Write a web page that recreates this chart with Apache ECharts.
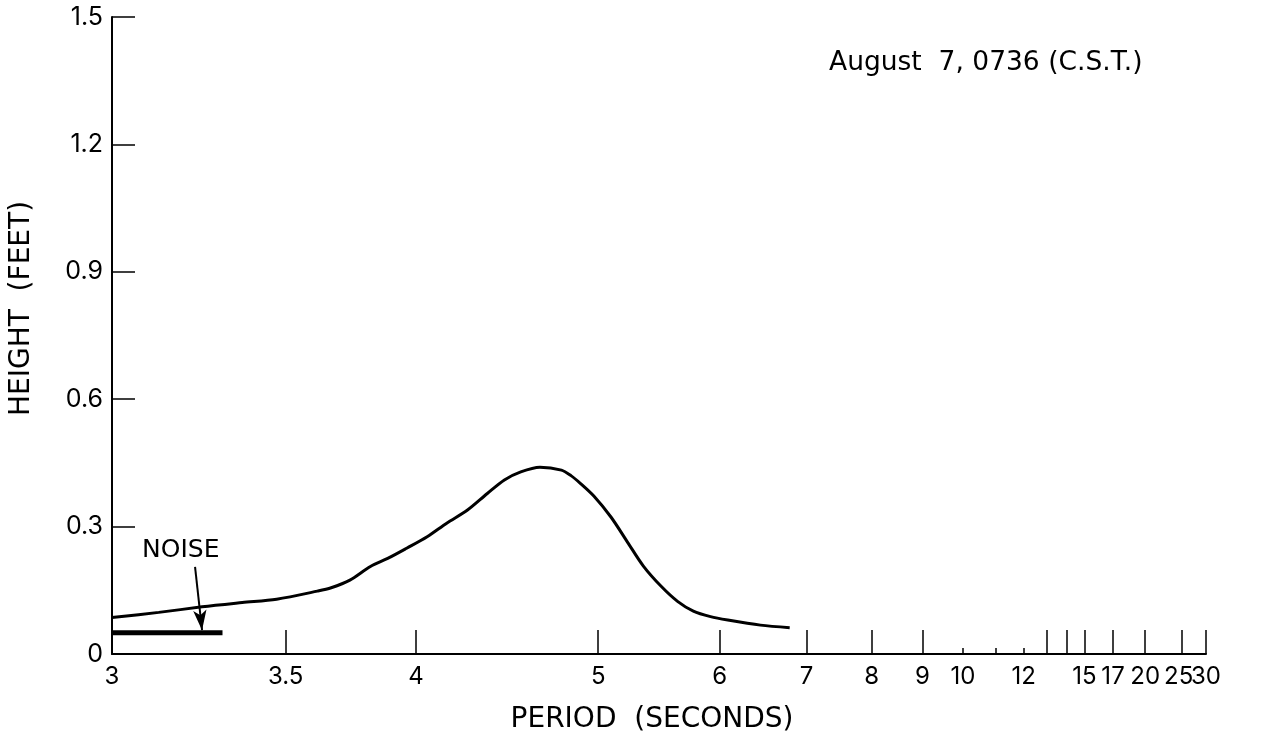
<!DOCTYPE html>
<html>
<head>
<meta charset="utf-8">
<script src="https://cdn.jsdelivr.net/npm/echarts@6/dist/echarts.min.js"></script>
<style>
  html, body { margin: 0; padding: 0; background: #fff; }
  #container { width: 1261px; height: 742px; }
</style>
</head>
<body>
<div id="container"></div>
<script>
// wave height spectrum, period in seconds vs height in feet
const periods = [3.0, 3.12, 3.24, 3.36, 3.47, 3.61, 3.66, 3.73, 3.81, 3.88, 3.96,
    4.05, 4.14, 4.24, 4.34, 4.43, 4.52, 4.63, 4.76, 4.82, 4.88, 4.97, 5.09, 5.21,
    5.33, 5.47, 5.61, 5.75, 5.91, 6.08, 6.43, 6.78];
const heights = [0.086, 0.098, 0.111, 0.121, 0.129, 0.148, 0.156, 0.174, 0.206, 0.225, 0.249,
    0.276, 0.308, 0.339, 0.378, 0.410, 0.429, 0.440, 0.433, 0.420, 0.402, 0.372, 0.322, 0.263,
    0.207, 0.160, 0.124, 0.101, 0.088, 0.080, 0.068, 0.062];

const noisePeriods = [3.0, 3.30];
const noiseHeights = [0.050, 0.050];

// annotation anchors (period, height)
const noiseLabel = [3.18, 0.243];
const arrowFrom = [3.22, 0.205];
const arrowTo = [3.24, 0.056];

const labelPeriods = [3, 3.5, 4, 5, 6, 7, 8, 9, 10, 12, 15, 17, 20, 25];
const endLabelPeriods = [30];
const longTickPeriods = [3.5, 4, 5, 6, 7, 8, 9, 13, 14, 15, 17, 20, 25, 30];
const shortTickPeriods = [10, 11, 12];

const inv = p => 1 / p;
const fmtPeriod = v => String(Math.round(10 / v) / 10);
const font = 'DejaVu Sans';
const numFont = 'Inter';

const curve = periods.map((p, i) => [inv(p), heights[i]]);
const noise = noisePeriods.map((p, i) => [inv(p), noiseHeights[i]]);

const chart = echarts.init(document.getElementById('container'), null, { renderer: 'canvas' });

const tickLabel = {
    fontFamily: numFont,
    fontSize: 24,
    color: '#000',
    margin: 11
};

// frequency scale (1/period), drawn right to left
const baseX = {
    type: 'value',
    inverse: true,
    min: 1 / 30,
    max: 1 / 3,
    position: 'bottom',
    splitLine: { show: false }
};

const option = {
    backgroundColor: '#fff',
    animation: false,
    title: {
        text: 'August  7, 0736 (C.S.T.)',
        left: 829,
        top: 50,
        padding: 0,
        textStyle: { fontFamily: font, fontSize: 26.5, fontWeight: 'normal', color: '#000' }
    },
    grid: { left: 111, right: 55, top: 17, bottom: 88 },
    xAxis: [
        Object.assign({}, baseX, {
            name: 'PERIOD  (SECONDS)',
            nameLocation: 'middle',
            nameGap: 52,
            nameTextStyle: { fontFamily: font, fontSize: 28, color: '#000', padding: [0, 14, 0, 0] },
            axisLine: { lineStyle: { color: '#000', width: 2 } },
            axisTick: {
                show: true,
                inside: true,
                length: 24,
                customValues: longTickPeriods.map(inv),
                lineStyle: { color: '#000', width: 1.5 }
            },
            axisLabel: Object.assign({
                customValues: labelPeriods.map(inv),
                showMinLabel: true,
                // last label sits a little left of its tick, as in the crowded original
                formatter: v => {
                    const s = fmtPeriod(v);
                    return s === '25' ? '{n|' + s + '}' : s;
                },
                rich: { n: { fontFamily: numFont, fontSize: 24, color: '#000', padding: [0, 6, 0, 0] } }
            }, tickLabel)
        }),
        Object.assign({}, baseX, {
            axisLine: { show: false },
            axisTick: {
                show: true,
                inside: true,
                length: 6,
                customValues: shortTickPeriods.map(inv),
                lineStyle: { color: '#000', width: 1.5 }
            },
            axisLabel: Object.assign({
                customValues: endLabelPeriods.map(inv),
                showMaxLabel: true,
                formatter: fmtPeriod
            }, tickLabel)
        })
    ],
    yAxis: {
        type: 'value',
        min: 0,
        max: 1.5,
        interval: 0.3,
        name: 'HEIGHT  (FEET)',
        nameLocation: 'middle',
        nameGap: 76,
        nameTextStyle: { fontFamily: font, fontSize: 28, color: '#000', padding: [0, 0, 0, 54] },
        axisLine: { show: true, lineStyle: { color: '#000', width: 2 } },
        axisTick: { show: true, inside: true, length: 23, lineStyle: { color: '#000', width: 1.5 } },
        axisLabel: { fontFamily: numFont, fontSize: 25, color: '#000', margin: 9 },
        splitLine: { show: false }
    },
    series: [
        {
            name: 'Spectrum',
            type: 'line',
            data: curve,
            smooth: 0.3,
            showSymbol: false,
            lineStyle: { color: '#000', width: 3 }
        },
        {
            name: 'Noise',
            type: 'line',
            data: noise,
            showSymbol: false,
            lineStyle: { color: '#000', width: 5 },
            markPoint: {
                symbol: 'rect',
                symbolSize: 1,
                itemStyle: { color: 'rgba(0,0,0,0)' },
                data: [{
                    coord: [inv(noiseLabel[0]), noiseLabel[1]],
                    label: {
                        show: true,
                        position: 'inside',
                        formatter: 'NOISE',
                        fontFamily: font,
                        fontSize: 25,
                        color: '#000'
                    }
                }]
            },
            markLine: {
                silent: true,
                symbol: ['none', 'arrow'],
                symbolSize: [10, 20],
                label: { show: false },
                lineStyle: { color: '#000', width: 2, type: 'solid' },
                data: [[
                    { coord: [inv(arrowFrom[0]), arrowFrom[1]] },
                    { coord: [inv(arrowTo[0]), arrowTo[1]] }
                ]]
            }
        }
    ]
};

chart.setOption(option);
window.addEventListener('resize', () => chart.resize());
</script>
</body>
</html>
